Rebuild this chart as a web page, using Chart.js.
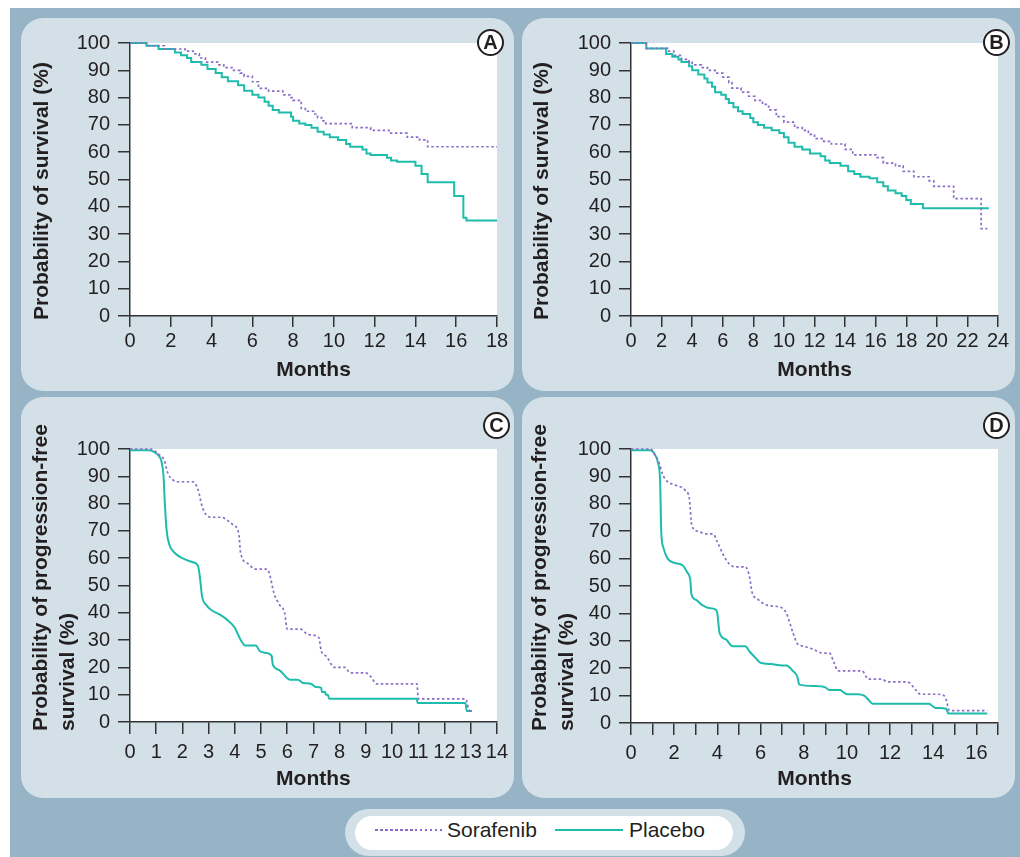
<!DOCTYPE html>
<html>
<head>
<meta charset="utf-8">
<script src="https://cdn.jsdelivr.net/npm/chart.js@4.4.1/dist/chart.umd.min.js"></script>
<style>
  body { margin: 0; width: 1020px; height: 857px; background: #fff; position: relative; overflow: hidden;
         font-family: 'Liberation Sans', Arial, sans-serif; color: #231f20; }
  #frame { position: absolute; left: 10px; top: 8px; width: 1010px; height: 849px; background: #96b4c5; }
  .panel { position: absolute; background: #d3e0e8; border-radius: 22px; }
  .panel canvas { position: absolute; left: 0; top: 0; }
  .badge { position: absolute; width: 23px; height: 23px; border: 2px solid #231f20; border-radius: 50%;
           background: #fff; font-weight: bold; font-size: 20px; line-height: 23px; text-align: center; z-index: 2; }
  #legendOuter { position: absolute; left: 345px; top: 809px; width: 400px; height: 47px; background: #d3e0e8; border-radius: 24px; }
  #legendInner { position: absolute; left: 355px; top: 816px; width: 378px; height: 34px; background: #fff; border-radius: 17px; }
  .legLine { position: absolute; height: 2px; }
  .legText { position: absolute; font-size: 21px; line-height: 24px; }
</style>
</head>
<body>
<div id="frame"></div>
<div class="panel" style="left:21px; top:18px; width:493px; height:373px;"><canvas id="chartA" width="493" height="373"></canvas></div>
<div class="panel" style="left:522px; top:18px; width:493px; height:373px;"><canvas id="chartB" width="493" height="373"></canvas></div>
<div class="panel" style="left:21px; top:397px; width:493px; height:401px;"><canvas id="chartC" width="493" height="401"></canvas></div>
<div class="panel" style="left:522px; top:397px; width:493px; height:401px;"><canvas id="chartD" width="493" height="401"></canvas></div>
<div class="badge" style="left:477px; top:29px;">A</div>
<div class="badge" style="left:983px; top:29px;">B</div>
<div class="badge" style="left:483px; top:412px;">C</div>
<div class="badge" style="left:983px; top:412px;">D</div>
<div id="legendOuter"></div>
<div id="legendInner"></div>
<div class="legLine" style="left:375px; top:829px; width:67px; background: repeating-linear-gradient(90deg, #8a6cc8 0 2.5px, transparent 2.5px 5px);"></div>
<div class="legText" style="left:447px; top:818px;">Sorafenib</div>
<div class="legLine" style="left:555px; top:829px; width:68px; background:#1fbcac;"></div>
<div class="legText" style="left:629px; top:818px;">Placebo</div>

<script>
// Panel A - overall survival
const monthsSoraA = [0, 0.9, 1.7, 2.7, 3.1, 3.4, 3.7, 4.3, 4.6, 5.0, 5.4, 5.6, 6.0, 6.3, 6.8, 7.5, 7.9, 8.0, 8.4, 8.6, 9.0, 9.2, 9.4, 9.6, 10.9, 11.8, 12.7, 13.6, 14.2, 14.6, 18];
const survSoraA   = [100, 99, 97.8, 97, 96, 94.5, 93, 92, 91, 90, 89, 87.8, 85.8, 83.4, 82.4, 81, 80, 79, 76, 75, 74, 72.7, 71.5, 70.5, 69, 68, 67, 65.5, 64.5, 62, 62];
const monthsPlacA = [0, 0.8, 1.4, 2.2, 2.5, 2.8, 3.0, 3.5, 3.8, 4.2, 4.5, 4.8, 5.3, 5.6, 6.0, 6.3, 6.6, 6.8, 7.0, 7.3, 7.9, 8.0, 8.3, 8.6, 8.9, 9.2, 9.5, 9.8, 10.2, 10.6, 10.8, 11.4, 11.6, 11.8, 12.6, 12.8, 13.1, 14.0, 14.3, 14.6, 15.9, 16.35, 16.5, 18];
const survPlacA   = [100, 99, 97.8, 96.5, 95.5, 94.5, 93, 92, 90.5, 89, 87.5, 86, 84.5, 82.5, 81, 80, 78.5, 77, 75.5, 74.5, 73, 71.5, 70.5, 70, 69, 67.5, 66.5, 65.5, 64.5, 63, 62, 61, 59.5, 59, 58, 57, 56.5, 55, 52, 49, 44, 36, 35, 35];

// Panel B - overall survival
const monthsSoraB = [0, 1.0, 2.4, 2.8, 3.3, 3.8, 4.0, 4.6, 5.0, 5.5, 6.0, 6.4, 6.6, 7.2, 7.7, 8.1, 8.6, 9.0, 9.5, 10.0, 10.7, 11.2, 11.6, 12.0, 12.6, 13.1, 14.0, 14.5, 16.0, 16.5, 17.3, 17.8, 18.5, 19.5, 19.8, 21.1, 22.9, 23.3];
const survSoraB   = [100, 98, 97, 95.5, 94, 93, 92, 91, 90, 89, 87.5, 85.5, 83.5, 82, 80.5, 79, 77.5, 75.5, 73, 71, 69, 68, 66.5, 65, 64, 63, 61, 59, 58, 56, 55, 53, 51, 49.5, 47.5, 43, 32, 32];
const monthsPlacB = [0, 1.0, 2.3, 2.7, 3.1, 3.3, 3.8, 4.0, 4.4, 4.8, 5.0, 5.3, 5.5, 5.9, 6.2, 6.4, 6.7, 7.0, 7.3, 7.8, 8.0, 8.3, 8.7, 9.2, 9.7, 10.0, 10.3, 10.7, 11.2, 11.7, 12.4, 12.7, 13.0, 13.7, 14.2, 14.6, 15.0, 15.6, 16.1, 16.5, 16.8, 17.3, 17.7, 18.0, 18.3, 19.1, 23.4];
const survPlacB   = [100, 98, 96, 95, 94, 93, 91.5, 90, 88.5, 87, 85.5, 84, 82, 81, 79.5, 78, 76.5, 75, 74, 72.5, 71, 70, 69, 68, 67, 65.5, 63.5, 62, 61, 59.5, 58.5, 57, 56, 55, 53, 52, 51, 50.5, 49, 47.5, 46, 45, 44, 42.5, 41, 39.5, 39.5];

// Panel C - progression-free survival
const monthsSoraC = [0, 0.8, 1.1, 1.3, 1.45, 1.6, 1.8, 2.4, 2.6, 2.75, 2.9, 3.1, 3.5, 3.7, 3.9, 4.15, 4.22, 4.5, 4.8, 5.2, 5.3, 5.5, 5.7, 5.9, 6.0, 6.5, 6.8, 7.2, 7.3, 7.5, 7.8, 8.2, 8.4, 9.0, 9.2, 9.4, 10.95, 11.0, 12.8, 12.87, 12.92, 13.05];
const survSoraC   = [100, 100, 98, 96, 91, 89, 88, 88, 85, 79, 76, 75, 75, 74, 72.5, 69, 62, 58, 56, 56, 55, 47, 43, 40, 34, 34, 32, 31, 26, 24, 20, 20, 18, 18, 16.5, 14, 14, 8.5, 8.5, 7, 4.5, 4];
const monthsPlacC = [0, 0.7, 0.9, 1.1, 1.2, 1.28, 1.33, 1.4, 1.5, 1.7, 2.0, 2.4, 2.6, 2.68, 2.75, 2.9, 3.1, 3.4, 3.7, 4.0, 4.2, 4.4, 4.8, 4.95, 5.2, 5.4, 5.45, 5.7, 6.0, 6.1, 6.4, 6.6, 6.9, 7.1, 7.3, 7.32, 7.45, 7.47, 7.55, 7.6, 10.95, 10.97, 12.8, 12.85, 13.05];
const survPlacC   = [99.5, 99.5, 99, 97.5, 95.5, 90, 80, 70, 65, 62, 60, 58.5, 57, 52, 46, 43, 41, 39.5, 37.5, 34.5, 30.5, 28, 28, 26, 25.3, 24.3, 21, 19, 16, 15.5, 15.5, 14.3, 14, 12.8, 12.5, 11, 11, 10, 10, 8.5, 8.5, 7, 7, 4, 4];

// Panel D - progression-free survival
const monthsSoraD = [0, 0.9, 1.1, 1.3, 1.45, 1.7, 2.0, 2.5, 2.7, 2.82, 3.1, 3.5, 3.8, 4.0, 4.3, 4.5, 4.8, 5.3, 5.5, 5.6, 5.9, 6.3, 7.0, 7.2, 7.5, 7.7, 8.0, 8.4, 8.9, 9.2, 9.4, 9.6, 10.7, 11.0, 11.6, 11.9, 12.8, 13.2, 13.4, 14.1, 14.5, 14.6, 14.75, 16.5];
const survSoraD   = [100, 100, 98, 95, 91, 88, 87, 85, 82, 72, 70, 69, 69, 66, 61, 58.5, 57, 57, 53, 48, 45, 43, 42, 40, 33, 29, 28, 27, 25.5, 25.5, 22, 19, 19, 16, 16, 15, 15, 12, 10.5, 10.5, 10, 8.5, 4.5, 4.5];
const monthsPlacD = [0, 0.9, 1.1, 1.25, 1.35, 1.4, 1.5, 1.7, 2.0, 2.4, 2.6, 2.75, 2.8, 3.0, 3.3, 3.6, 3.9, 4.0, 4.1, 4.4, 4.7, 5.3, 5.5, 5.8, 6.0, 6.5, 7.0, 7.2, 7.5, 7.7, 7.8, 8.5, 9.0, 9.2, 9.7, 9.8, 10.0, 10.5, 10.8, 11.0, 11.2, 13.8, 14.1, 14.6, 14.7, 16.5];
const survPlacD   = [99.5, 99.5, 98, 95, 88, 70, 64, 60, 58.5, 57.5, 55, 52, 47, 45, 43, 42, 41.5, 40, 33, 30.5, 28, 28, 26, 23.5, 22, 21.5, 21, 21, 19, 17, 14, 13.5, 13, 12, 12, 11.5, 10.5, 10.5, 10, 8.5, 7, 7, 5.5, 5.2, 3.5, 3.5];

const ink = '#231f20';
const axisColor = '#333333';
const family = "'Liberation Sans', Arial, sans-serif";

function toPoints(months, surv) {
  return months.map((m, i) => ({ x: m, y: surv[i] }));
}

// white plot background + rotated, left-aligned y titles
const panelDeco = {
  id: 'panelDeco',
  beforeDraw(chart) {
    const { ctx, chartArea: a } = chart;
    ctx.save();
    ctx.fillStyle = '#fff';
    ctx.fillRect(a.left, a.top, a.right - a.left, a.bottom - a.top);
    ctx.restore();
  },
  afterDraw(chart, args, opts) {
    const ctx = chart.ctx;
    ctx.save();
    ctx.font = 'bold 21px ' + family;
    ctx.fillStyle = ink;
    ctx.textAlign = 'left';
    ctx.textBaseline = 'middle';
    opts.lines.forEach((line, i) => {
      ctx.save();
      ctx.translate(opts.xs[i], opts.y0);
      ctx.rotate(-Math.PI / 2);
      ctx.fillText(line, 0, 0);
      ctx.restore();
    });
    ctx.restore();
  }
};

function makeChart(id, p) {
  const curve = p.stepped ? { stepped: true } : { cubicInterpolationMode: 'monotone' };
  return new Chart(document.getElementById(id), {
    type: 'line',
    data: {
      datasets: [
        Object.assign({ label: 'Sorafenib', data: toPoints(p.soraM, p.soraS), borderColor: '#8a6cc8', borderWidth: 1.7,
          borderDash: [2.5, 2.5], pointRadius: 0, clip: 6 }, curve),
        Object.assign({ label: 'Placebo', data: toPoints(p.placM, p.placS), borderColor: '#1fbcac', borderWidth: 2,
          pointRadius: 0, clip: 6 }, curve)
      ]
    },
    options: {
      responsive: false,
      animation: false,
      layout: { padding: { left: 0, top: p.top, right: 17, bottom: 0 } },
      plugins: {
        legend: { display: false },
        tooltip: { enabled: false },
        panelDeco: p.yTitle
      },
      scales: {
        x: {
          type: 'linear', min: 0, max: p.xMax,
          afterFit: s => { s.height = p.xHeight; },
          ticks: { stepSize: p.xStep, autoSkip: false, maxRotation: 0, padding: p.xPad, color: ink,
                   font: { family: family, size: 20 },
                   callback: v => (p.labelEvery && v % p.labelEvery !== 0) ? '' : v },
          grid: { drawOnChartArea: false, drawTicks: true, tickLength: p.xTick, color: axisColor, lineWidth: 1.5 },
          border: { color: axisColor, width: 1.5 },
          title: { display: true, text: 'Months', color: ink, font: { family: family, size: 21, weight: 'bold', lineHeight: 1 },
                   padding: { top: 0, bottom: p.titlePad } }
        },
        y: {
          min: 0, max: 100,
          afterFit: s => { s.width = 109; },
          ticks: { stepSize: 10, padding: 8, color: ink, font: { family: family, size: 20 } },
          grid: { drawOnChartArea: false, drawTicks: true, tickLength: 12, color: axisColor, lineWidth: 1.5 },
          border: { color: axisColor, width: 1.5 }
        }
      }
    },
    plugins: [panelDeco]
  });
}

makeChart('chartA', { soraM: monthsSoraA, soraS: survSoraA, placM: monthsPlacA, placS: survPlacA, stepped: true,
  xMax: 18, xStep: 2, top: 25, xHeight: 75, xTick: 11, xPad: 2, titlePad: 10,
  yTitle: { lines: ['Probability of survival (%)'], xs: [21.5], y0: 302 } });
makeChart('chartB', { soraM: monthsSoraB, soraS: survSoraB, placM: monthsPlacB, placS: survPlacB, stepped: true,
  xMax: 24, xStep: 2, top: 25, xHeight: 75, xTick: 11, xPad: 2, titlePad: 10,
  yTitle: { lines: ['Probability of survival (%)'], xs: [20], y0: 302 } });
makeChart('chartC', { soraM: monthsSoraC, soraS: survSoraC, placM: monthsPlacC, placS: survPlacC, stepped: false,
  xMax: 14, xStep: 1, top: 52, xHeight: 76, xTick: 12, xPad: 6, titlePad: 8,
  yTitle: { lines: ['Probability of progression-free', 'survival (%)'], xs: [20.5, 47], y0: 334 } });
makeChart('chartD', { soraM: monthsSoraD, soraS: survSoraD, placM: monthsPlacD, placS: survPlacD, stepped: false,
  xMax: 17, xStep: 1, labelEvery: 2, top: 52, xHeight: 75, xTick: 12, xPad: 6, titlePad: 8,
  yTitle: { lines: ['Probability of progression-free', 'survival (%)'], xs: [18.5, 45.5], y0: 334 } });
</script>
</body>
</html>
